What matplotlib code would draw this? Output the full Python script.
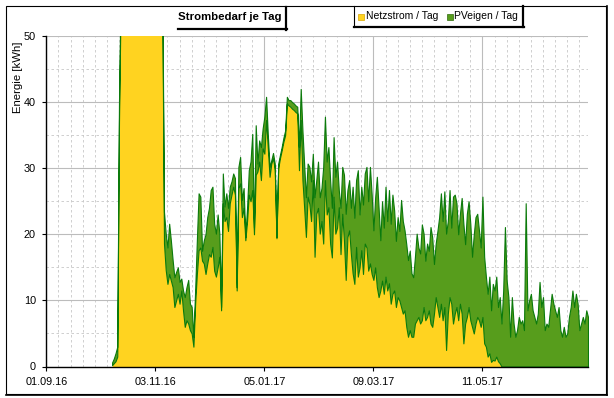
import datetime as dt
import numpy as np
import matplotlib
matplotlib.use('Agg')
import matplotlib.pyplot as plt
from matplotlib.lines import Line2D
from matplotlib.patches import Rectangle

# daily energy in kWh; days counted from 01.09.16
start = dt.date(2016, 9, 1)
days = list(range(38, 44)) + list(range(67, 314))
netz = [0.2, 0.5, 0.8, 1.5, 37.0, 56,
        56, 18.6, 14.6, 12.5, 14.0, 13.0, 12.0, 9.0, 10.0, 11.0,
        9.5, 11.5, 8.5, 6.0, 7.0, 6.5, 5.5, 5.0, 3.0, 9.5,
        14.0, 17.6, 18.0, 16.0, 15.6, 14.0, 15.6, 17.0, 16.6, 18.1,
        14.5, 13.6, 15.0, 16.6, 8.5, 24.7, 22.0, 22.6, 20.5, 24.7,
        26.0, 27.2, 26.0, 11.5, 27.0, 27.7, 22.6, 24.0, 19.1, 22.0,
        26.0, 25.0, 26.7, 20.0, 29.0, 29.5, 31.0, 28.2, 33.0, 32.2,
        37.3, 33.0, 28.7, 30.7, 31.5, 29.8, 19.4, 30.0, 31.5, 32.7,
        34.0, 35.0, 39.8, 39.5, 39.3, 39.0, 38.8, 38.5, 38.3, 29.7,
        37.3, 28.2, 24.0, 19.6, 25.7, 24.6, 22.0, 28.2, 16.6, 23.1,
        24.0, 20.1, 22.0, 18.6, 28.2, 23.0, 24.1, 18.6, 16.5, 25.7,
        20.1, 21.0, 24.1, 17.0, 23.1, 19.0, 13.1, 19.6, 20.6, 17.0,
        14.1, 12.5, 18.1, 13.6, 15.0, 17.6, 14.0, 18.6, 18.0, 14.5,
        15.6, 14.0, 13.1, 15.0, 12.0, 10.5, 11.5, 13.0, 11.0, 13.6,
        11.5, 12.6, 9.5, 11.0, 11.5, 9.0, 10.5, 10.0, 9.0, 8.0,
        8.5, 6.0, 4.5, 5.5, 4.5, 4.5, 6.5, 7.0, 7.5, 6.5,
        7.0, 9.0, 7.0, 7.5, 8.5, 6.5, 6.0, 8.0, 10.5, 9.0,
        7.5, 9.5, 7.0, 9.0, 2.5, 8.0, 10.5, 9.5, 6.5, 8.0,
        9.0, 7.0, 9.5, 8.0, 3.5, 6.5, 7.5, 9.0, 7.0, 6.0,
        5.0, 6.5, 7.5, 7.0, 6.0, 7.5, 3.5, 3.0, 1.5, 2.0,
        0.7, 1.0, 0.9, 1.5, 0.8, 0.5, 0, 0, 0, 0,
        0, 0, 0, 0, 0, 0, 0, 0, 0, 0,
        0, 0, 0, 0, 0, 0, 0, 0, 0, 0,
        0, 0, 0, 0, 0, 0, 0, 0, 0, 0,
        0, 0, 0, 0, 0, 0, 0, 0, 0, 0,
        0, 0, 0, 0, 0, 0, 0]
pv = [0.4, 0.7, 1.2, 1.5, 3.0, 2,
      2, 4.8, 5.5, 5.5, 7.6, 6.0, 4.1, 4.5, 4.3, 4.0,
      3.3, 1.8, 3.0, 4.5, 5.0, 6.6, 4.0, 4.0, 1.5, 2.0,
      5.1, 8.6, 7.7, 1.5, 3.5, 6.0, 7.0, 7.0, 10.1, 9.1,
      7.1, 6.5, 8.0, 3.5, 0.5, 4.5, 2.2, 3.6, 3.5, 2.5,
      2.0, 2.0, 2.5, 0.5, 3.2, 4.0, 2.6, 3.0, 0.5, 2.0,
      3.7, 6.0, 8.5, 1.0, 7.5, 1.2, 3.2, 5.0, 3.0, 5.6,
      3.5, 2.0, 1.5, 0.5, 0.8, 0.9, 0.2, 0.7, 0.5, 0.5,
      0.6, 0.7, 1.0, 0.8, 1.0, 1.0, 1.0, 1.0, 1.0, 3.5,
      4.7, 7.5, 6.5, 6.0, 5.0, 5.6, 6.0, 4.0, 9.0, 5.1,
      7.0, 5.5, 5.0, 11.6, 9.6, 8.0, 9.1, 9.6, 7.5, 9.0,
      8.6, 10.0, 2.6, 7.0, 7.1, 10.0, 10.0, 7.1, 7.6, 7.0,
      13.1, 10.0, 10.1, 16.1, 8.0, 9.6, 10.5, 10.6, 12.2, 10.5,
      14.6, 12.0, 7.5, 10.5, 16.7, 13.5, 7.6, 12.0, 10.0, 13.6,
      10.5, 14.1, 12.1, 15.0, 12.1, 10.0, 12.1, 10.5, 16.2, 14.0,
      12.1, 12.5, 11.6, 12.0, 9.6, 9.0, 10.1, 13.1, 10.5, 10.6,
      14.5, 11.1, 9.0, 11.1, 9.0, 14.6, 13.5, 7.5, 8.1, 11.5,
      15.1, 16.7, 15.0, 17.5, 17.6, 14.0, 16.2, 11.5, 19.2, 18.0,
      15.7, 13.0, 13.6, 17.5, 18.1, 12.0, 15.6, 16.0, 14.6, 10.6,
      15.0, 16.1, 15.6, 13.6, 12.0, 18.2, 13.1, 10.6, 9.5, 11.6,
      7.8, 11.5, 10.6, 12.1, 8.2, 10.0, 6.5, 11.5, 21.1, 13.0,
      10.5, 4.5, 10.5, 6.5, 4.5, 5.5, 7.5, 6.5, 7.0, 5.5,
      24.7, 8.5, 10.0, 11.0, 8.5, 7.5, 6.5, 8.0, 12.8, 9.0,
      10.5, 5.5, 6.5, 6.0, 8.5, 11.0, 9.5, 8.5, 7.5, 9.0,
      5.5, 4.5, 6.0, 4.5, 5.0, 7.5, 9.0, 11.5, 9.0, 11.0,
      9.5, 5.5, 6.5, 7.5, 6.5, 8.5, 7.5]
tick_days = [0, 63, 126, 189, 252]

W, H = 614, 398


def fx(x):
    return x / W


def fy(y):
    return 1 - y / H


plt.rcParams['font.family'] = ['Liberation Sans', 'DejaVu Sans']
fig = plt.figure(figsize=(W / 100, H / 100), dpi=100)

ax = fig.add_axes([fx(46.3), fy(366.5), (588 - 46.3) / W, (366.5 - 36) / H])
x = np.array(days)
n = np.array(netz)
total = n + np.array(pv)
ax.fill_between(x, 0, n, color='#ffd320', lw=0, zorder=2)
ax.fill_between(x, n, total, facecolor='#579d1c', edgecolor='#0b7a0b', lw=0.8, zorder=3)

ax.set_xlim(0, 313)
ax.set_ylim(0, 50)
ax.set_xticks(tick_days)
ax.set_xticklabels([(start + dt.timedelta(days=d)).strftime('%d.%m.%y') for d in tick_days])
ax.set_xticks(np.arange(7, 313, 7), minor=True)
ax.set_yticks(range(0, 51, 10))
ax.set_yticks(range(5, 50, 10), minor=True)
ax.grid(which='major', color='#bcbcbc', lw=0.8)
ax.grid(which='minor', color='#c8c8c8', lw=0.6, ls=(0, (3, 3)))
ax.set_axisbelow(True)
for s in ['top', 'right']:
    ax.spines[s].set_visible(False)
for s in ['left', 'bottom']:
    ax.spines[s].set_linewidth(1.0)
    ax.spines[s].set_zorder(5)
ax.tick_params(which='major', length=3, width=0.8, labelsize=7.8, pad=4.5)
ax.tick_params(which='minor', length=0)

fig.text(fx(18), fy(77), 'Energie [kWh]', rotation=90, fontsize=8.2, ha='center', va='center')

# outer frame with shadow
fig.add_artist(Rectangle((fx(5.5), fy(393.5)), (606 - 5.5) / W, (393.5 - 5.5) / H,
                         transform=fig.transFigure, fill=False, ec='black', lw=0.8))
fig.add_artist(Line2D([fx(607), fx(607)], [fy(6), fy(395)], transform=fig.transFigure, color='black', lw=1.2))
fig.add_artist(Line2D([fx(6), fx(607)], [fy(394.5), fy(394.5)], transform=fig.transFigure, color='black', lw=1.2))

# title box (shadow only)
fig.text(fx(230), fy(17.5), 'Strombedarf je Tag', fontsize=8.2, fontweight='bold', ha='center', va='center')
fig.add_artist(Line2D([fx(178), fx(286.5)], [fy(29.3), fy(29.3)], transform=fig.transFigure, color='black', lw=1.6))
fig.add_artist(Line2D([fx(285.8), fx(285.8)], [fy(7), fy(30)], transform=fig.transFigure, color='black', lw=1.6))

# legend box
fig.add_artist(Line2D([fx(353.5), fx(353.5)], [fy(5.5), fy(26.5)], transform=fig.transFigure, color='black', lw=0.8))
fig.add_artist(Line2D([fx(353.5), fx(524)], [fy(26.6), fy(26.6)], transform=fig.transFigure, color='black', lw=1.6))
fig.add_artist(Line2D([fx(523.3), fx(523.3)], [fy(6), fy(27.3)], transform=fig.transFigure, color='black', lw=1.6))
fig.add_artist(Rectangle((fx(357.5), fy(19.5)), 6 / W, 6 / H, transform=fig.transFigure,
                         fc='#ffd320', ec='#d9a800', lw=0.5))
fig.text(fx(365.5), fy(16.3), 'Netzstrom / Tag', fontsize=7.5, ha='left', va='center')
fig.add_artist(Rectangle((fx(446.5), fy(19.5)), 6 / W, 6 / H, transform=fig.transFigure,
                         fc='#579d1c', ec='#2f6a0c', lw=0.5))
fig.text(fx(454), fy(16.3), 'PVeigen / Tag', fontsize=7.5, ha='left', va='center')

fig.savefig('out.png', dpi=100)
